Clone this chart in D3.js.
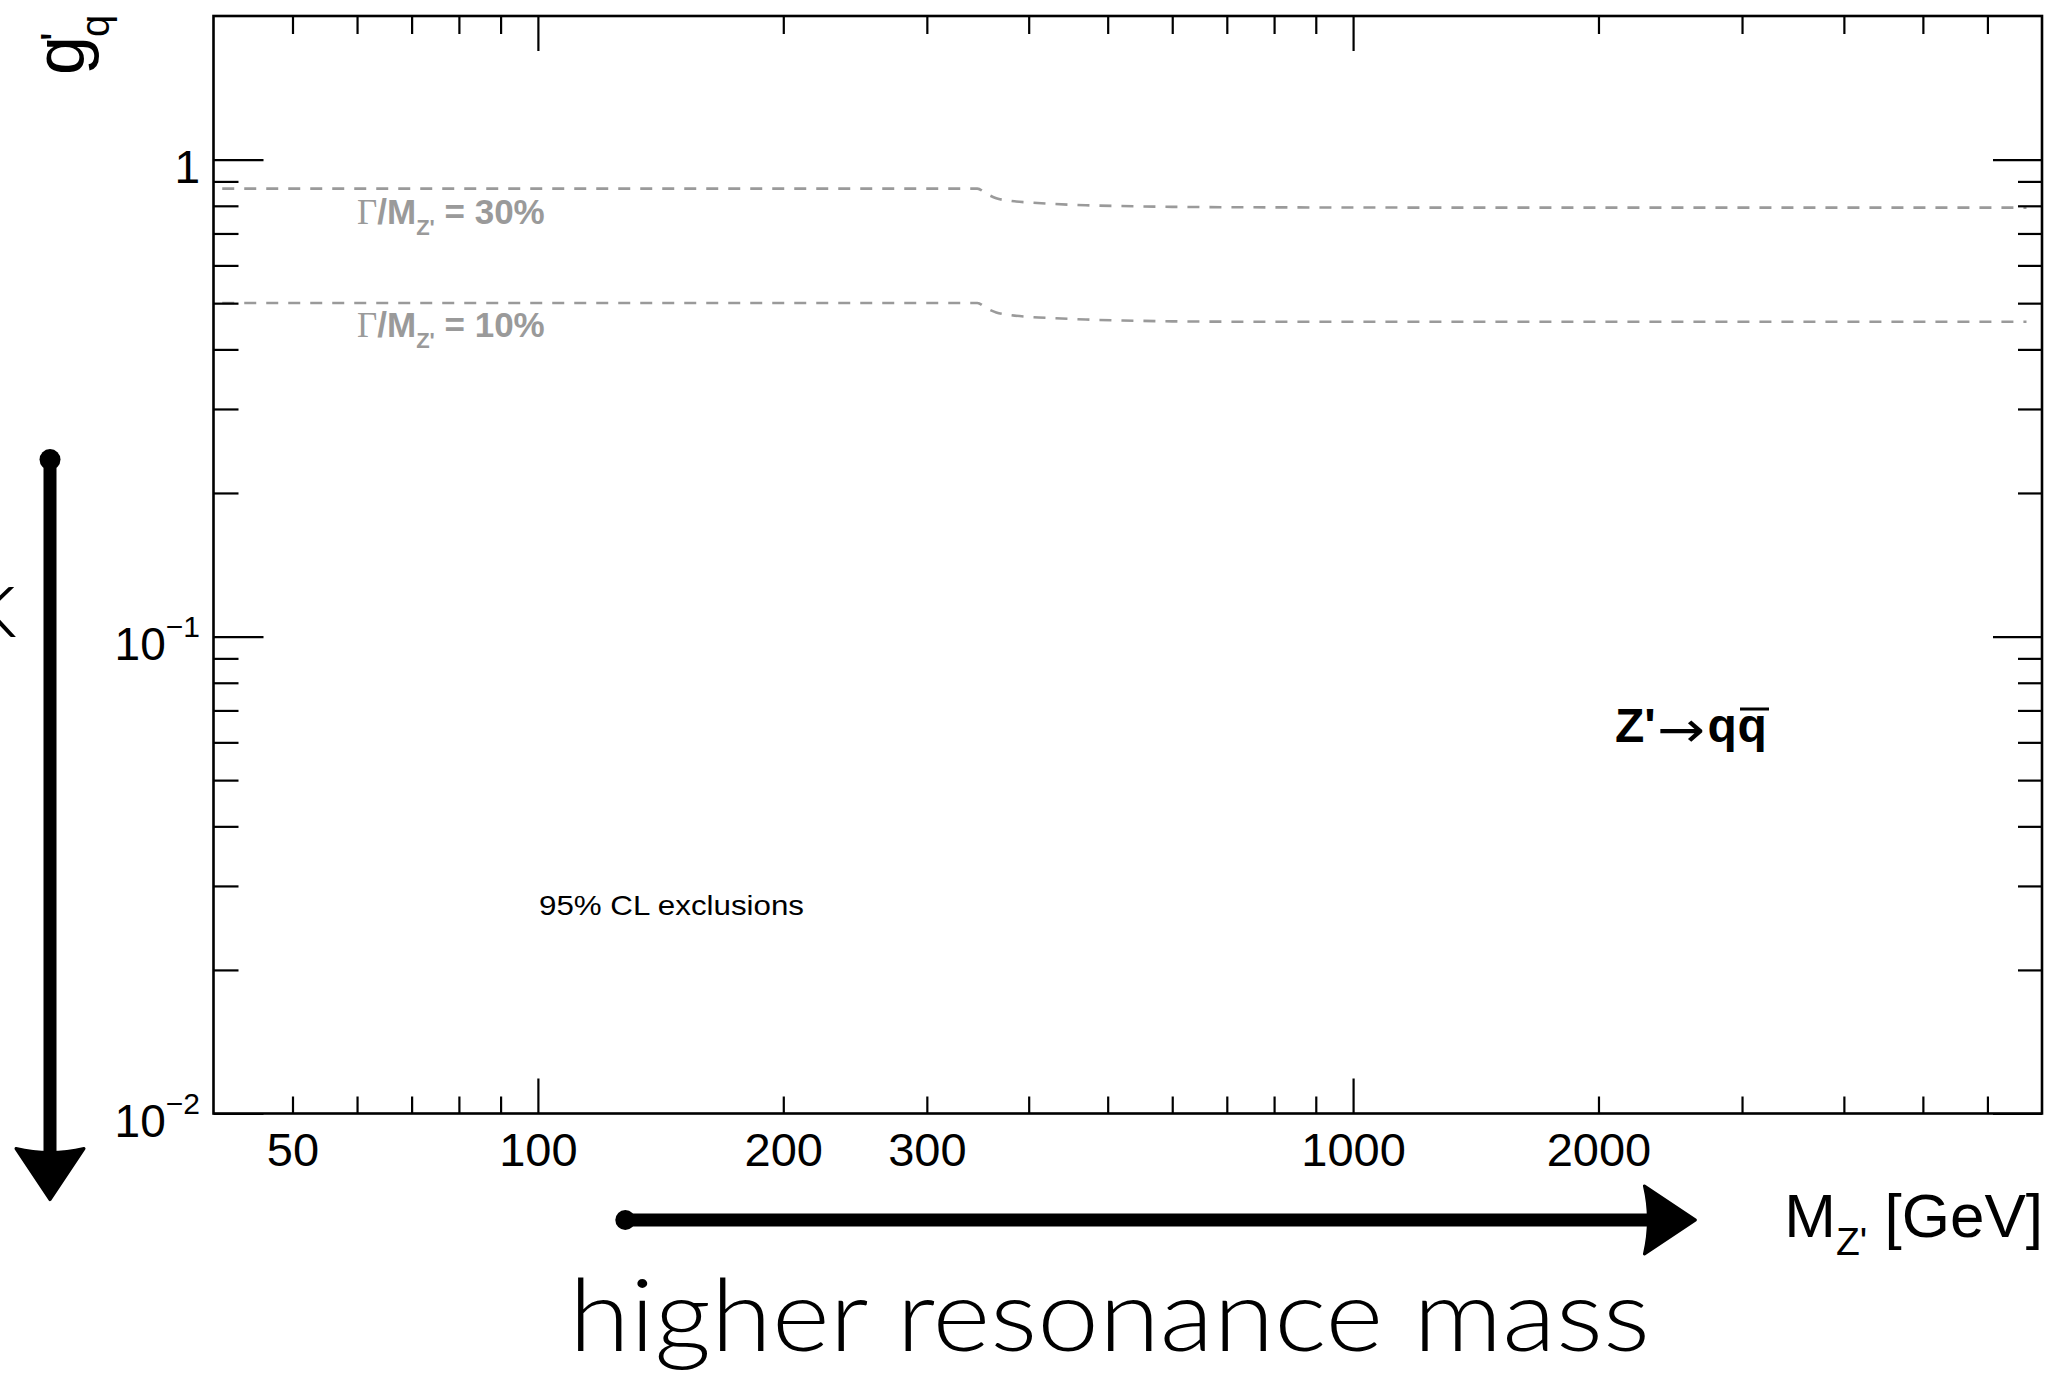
<!DOCTYPE html>
<html>
<head>
<meta charset="utf-8">
<script src="https://cdn.jsdelivr.net/npm/d3@7"></script>
<style>
  html, body { margin: 0; padding: 0; background: #fff; }
  svg { display: block; }
</style>
</head>
<body>
<script>
// ---------------- data ----------------
const xDomain = [40, 7000];          // M_Z' [GeV]
const yDomain = [0.01, 2];           // g'_q
const xMajorTicks = [100, 1000];
const xMinorTicks = [50, 60, 70, 80, 90, 200, 300, 400, 500, 600, 700, 800, 900, 2000, 3000, 4000, 5000, 6000];
const xTickLabels = [50, 100, 200, 300, 1000, 2000];
const yMajorTicks = [0.01, 0.1, 1];
const yMinorTicks = [0.02, 0.03, 0.04, 0.05, 0.06, 0.07, 0.08, 0.09, 0.2, 0.3, 0.4, 0.5, 0.6, 0.7, 0.8, 0.9];
const yTickLabels = [{v: 1, base: "1", exp: ""}, {v: 0.1, base: "10", exp: "\u22121"}, {v: 0.01, base: "10", exp: "\u22122"}];

// constant-width contours (Gamma/M = 30% and 10%)
const widthMass = [41, 346, 355, 365, 380, 400, 430, 470, 520, 600, 800, 1500, 6700];
const gWidth30  = [0.869, 0.869, 0.848, 0.830, 0.819, 0.813, 0.807, 0.802, 0.799, 0.796, 0.794, 0.793, 0.793];
const gWidth10  = [0.5005, 0.5005, 0.488, 0.478, 0.472, 0.468, 0.465, 0.462, 0.460, 0.458, 0.457, 0.457, 0.457];

// hand-drawn annotation arrows (in data units)
const massArrow = [128, 2630];          // along x, below the axis
const couplingArrow = [0.235, 0.0066];  // along y, left of the axis

// ---------------- layout ----------------
const W = 2050, H = 1374;
const m = {left: 213.5, right: 2042, top: 16, bottom: 1113.5};
const rootFont = "'Liberation Sans', Arial, Helvetica, sans-serif";
const handFont = "Lato, 'Open Sans', sans-serif";
const gray = "#9a9a9a";

const svg = d3.select("body").append("svg").attr("width", W).attr("height", H);

const x = d3.scaleLog().domain(xDomain).range([m.left, m.right]);
const y = d3.scaleLog().domain(yDomain).range([m.bottom, m.top]);

// ---------------- contours ----------------
const line = d3.line().x(d => x(d[0])).y(d => y(d[1])).curve(d3.curveMonotoneX);
[gWidth30, gWidth10].forEach(arr => {
  svg.append("path")
    .datum(widthMass.map((mm, i) => [mm, arr[i]]))
    .attr("d", line)
    .attr("fill", "none")
    .attr("stroke", gray)
    .attr("stroke-width", 2.6)
    .attr("stroke-dasharray", "12,10");
});

// ---------------- axes (ticks) ----------------
function tickAxis(axisFn, scale, values, size, transform) {
  const g = svg.append("g").attr("transform", transform)
    .call(axisFn(scale).tickValues(values).tickSize(size).tickFormat(""));
  g.select(".domain").remove();
  g.selectAll(".tick line").attr("stroke", "#000").attr("stroke-width", 2.2);
  return g;
}
// bottom (ticks pointing up, into the frame)
tickAxis(d3.axisBottom, x, xMinorTicks, -17, `translate(0,${m.bottom})`);
tickAxis(d3.axisBottom, x, xMajorTicks, -35, `translate(0,${m.bottom})`);
// top (pointing down)
tickAxis(d3.axisTop, x, xMinorTicks, -18, `translate(0,${m.top})`);
tickAxis(d3.axisTop, x, xMajorTicks, -35, `translate(0,${m.top})`);
// left (pointing right)
tickAxis(d3.axisLeft, y, yMinorTicks, -25, `translate(${m.left},0)`);
tickAxis(d3.axisLeft, y, yMajorTicks, -50, `translate(${m.left},0)`);
// right (pointing left)
tickAxis(d3.axisRight, y, yMinorTicks, -24, `translate(${m.right},0)`);
tickAxis(d3.axisRight, y, yMajorTicks, -49, `translate(${m.right},0)`);

// frame
svg.append("rect")
  .attr("x", m.left).attr("y", m.top)
  .attr("width", m.right - m.left).attr("height", m.bottom - m.top)
  .attr("fill", "none").attr("stroke", "#000").attr("stroke-width", 2.6);

// x tick labels
const xl = svg.append("g").attr("transform", `translate(0,${m.bottom})`)
  .call(d3.axisBottom(x).tickValues(xTickLabels).tickSize(0).tickPadding(19).tickFormat(d3.format("d")));
xl.select(".domain").remove();
xl.selectAll("text")
  .attr("font-family", rootFont).attr("font-size", 47).attr("fill", "#000");

// y tick labels
yTickLabels.forEach(t => {
  const tx = svg.append("text")
    .attr("x", 200).attr("y", y(t.v) + 23)
    .attr("text-anchor", "end")
    .attr("font-family", rootFont).attr("font-size", 46).attr("fill", "#000");
  tx.append("tspan").text(t.base);
  if (t.exp) {
    tx.append("tspan").attr("font-size", 30).attr("dy", -23).text(t.exp);
  }
});

// x axis title: M_Z' [GeV]
const xt = svg.append("text")
  .attr("x", 2043).attr("y", 1237)
  .attr("text-anchor", "end")
  .attr("font-family", rootFont).attr("font-size", 62).attr("fill", "#000");
xt.append("tspan").text("M");
xt.append("tspan").attr("font-size", 39).attr("dy", 18).text("Z'");
xt.append("tspan").attr("dy", -18).text(" [GeV]");

// y axis title: g'_q (rotated)
const yt = svg.append("g").attr("transform", "translate(84,16) rotate(-90)");
yt.append("text").attr("x", -20).attr("y", 0).attr("text-anchor", "end")
  .attr("font-family", rootFont).attr("font-size", 70).text("g");
yt.append("text").attr("x", -25).attr("y", -11).attr("text-anchor", "start")
  .attr("font-family", rootFont).attr("font-size", 46).text("'");
yt.append("text").attr("x", -21).attr("y", 25).attr("text-anchor", "start")
  .attr("font-family", rootFont).attr("font-size", 40).text("q");

// ---------------- in-frame labels ----------------
function widthLabel(xPos, yBase, pct) {
  const t = svg.append("text").attr("x", xPos).attr("y", yBase)
    .attr("font-family", rootFont).attr("font-size", 35).attr("fill", gray).attr("font-weight", "bold");
  t.append("tspan").attr("font-family", "'Liberation Serif', 'Times New Roman', serif").attr("font-weight", "normal").text("\u0393");
  t.append("tspan").text("/M");
  t.append("tspan").attr("font-size", 22).attr("dy", 11).text("Z'");
  t.append("tspan").attr("dy", -11).text(" = " + pct);
}
widthLabel(357, 223.5, "30%");
widthLabel(357, 337, "10%");

svg.append("text").attr("x", 539).attr("y", 915)
  .attr("font-family", rootFont).attr("font-size", 28).attr("fill", "#000")
  .attr("textLength", 265).attr("lengthAdjust", "spacingAndGlyphs")
  .text("95% CL exclusions");

// Z' -> q qbar
const zg = svg.append("g").attr("font-family", rootFont).attr("font-size", 48).attr("fill", "#000");
zg.append("text").attr("x", 1615).attr("y", 742).attr("font-weight", "bold").text("Z'");
zg.append("text").attr("x", 1657).attr("y", 747)
  .attr("font-family", "'DejaVu Sans', sans-serif").attr("font-size", 50)
  .attr("textLength", 48).attr("lengthAdjust", "spacingAndGlyphs").text("\u2192");
zg.append("text").attr("x", 1707.5).attr("y", 742).attr("font-weight", "bold").text("q");
zg.append("text").attr("x", 1737.5).attr("y", 742).attr("font-weight", "bold").text("q");
zg.append("line").attr("x1", 1740).attr("x2", 1769).attr("y1", 709).attr("y2", 709)
  .attr("stroke", "#000").attr("stroke-width", 3);

// ---------------- hand-drawn annotations ----------------
const ink = "#000";
// horizontal arrow (higher resonance mass)
{
  const yy = 1220;
  const x0 = x(massArrow[0]), x1 = x(massArrow[1]);
  const headLen = 51, headHalf = 34;
  svg.append("line").attr("x1", x0).attr("x2", x1 - headLen + 4).attr("y1", yy).attr("y2", yy)
    .attr("stroke", ink).attr("stroke-width", 13).attr("stroke-linecap", "round");
  svg.append("circle").attr("cx", x0).attr("cy", yy).attr("r", 10).attr("fill", ink);
  svg.append("path")
    .attr("d", `M${x1 - headLen},${yy - headHalf} L${x1},${yy} L${x1 - headLen},${yy + headHalf} Q${x1 - headLen + 8},${yy} ${x1 - headLen},${yy - headHalf}Z`)
    .attr("fill", ink).attr("stroke", ink).attr("stroke-width", 3).attr("stroke-linejoin", "round");
}
// vertical arrow (smaller coupling)
{
  const xx = 50;
  const y0 = y(couplingArrow[0]), y1 = y(couplingArrow[1]);
  const headLen = 51, headHalf = 34;
  svg.append("line").attr("x1", xx).attr("x2", xx).attr("y1", y0).attr("y2", y1 - headLen + 4)
    .attr("stroke", ink).attr("stroke-width", 13).attr("stroke-linecap", "round");
  svg.append("circle").attr("cx", xx).attr("cy", y0).attr("r", 10.5).attr("fill", ink);
  svg.append("path")
    .attr("d", `M${xx - headHalf},${y1 - headLen} L${xx},${y1} L${xx + headHalf},${y1 - headLen} Q${xx},${y1 - headLen + 8} ${xx - headHalf},${y1 - headLen}Z`)
    .attr("fill", ink).attr("stroke", ink).attr("stroke-width", 3).attr("stroke-linejoin", "round");
}

svg.append("text").attr("x", 569).attr("y", 1351)
  .attr("font-family", handFont).attr("font-weight", 300).attr("font-size", 100).attr("fill", "#000")
  .attr("textLength", 1081).attr("lengthAdjust", "spacingAndGlyphs")
  .text("higher resonance mass");

// partially visible letter at the left edge (cut off in the reference too)
svg.append("text").attr("x", 17).attr("y", 637).attr("text-anchor", "end")
  .attr("font-family", handFont).attr("font-weight", 300).attr("font-size", 100).attr("fill", "#000")
  .text("k");
</script>
</body>
</html>
